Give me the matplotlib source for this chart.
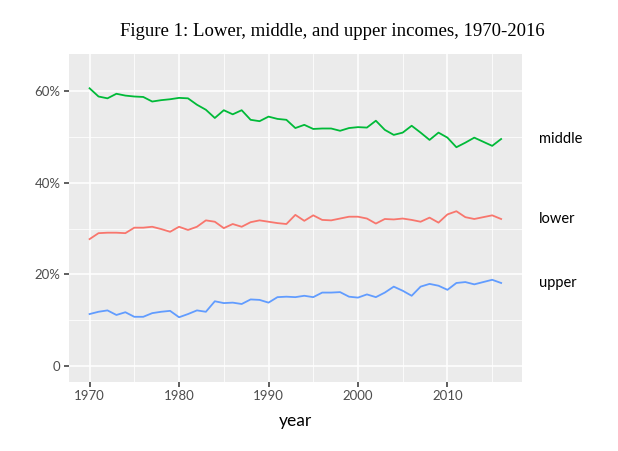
import matplotlib.pyplot as plt
import numpy as np

years = np.arange(1970, 2017)

middle = [60.7, 58.9, 58.5, 59.5, 59.1, 58.9, 58.8, 57.8, 58.1, 58.3,
          58.6, 58.5, 57.1, 56.0, 54.2, 55.9, 55.0, 55.9, 53.8, 53.5,
          54.5, 54.0, 53.8, 52.0, 52.7, 51.8, 51.9, 51.9, 51.4, 52.0,
          52.2, 52.1, 53.6, 51.6, 50.5, 51.0, 52.5, 51.0, 49.4, 51.0,
          49.9, 47.8, 48.8, 49.9, 49.0, 48.1, 49.6]
lower = [27.7, 29.0, 29.1, 29.1, 29.0, 30.2, 30.2, 30.4, 29.9, 29.3,
         30.4, 29.7, 30.4, 31.8, 31.5, 30.1, 31.0, 30.4, 31.4, 31.8,
         31.5, 31.2, 31.0, 33.0, 31.7, 32.9, 31.9, 31.8, 32.2, 32.6,
         32.6, 32.2, 31.1, 32.1, 32.0, 32.2, 31.9, 31.5, 32.4, 31.3,
         33.1, 33.8, 32.5, 32.1, 32.5, 32.9, 32.1]
upper = [11.3, 11.8, 12.1, 11.1, 11.7, 10.7, 10.7, 11.5, 11.8, 12.0,
         10.6, 11.3, 12.1, 11.8, 14.1, 13.7, 13.8, 13.5, 14.5, 14.4,
         13.8, 15.0, 15.1, 15.0, 15.3, 15.0, 16.0, 16.0, 16.1, 15.1,
         14.9, 15.6, 15.0, 16.0, 17.3, 16.4, 15.3, 17.3, 17.9, 17.5,
         16.6, 18.1, 18.3, 17.8, 18.3, 18.8, 18.1]

series = {"lower": (lower, "#F8766D"),
          "middle": (middle, "#00BA38"),
          "upper": (upper, "#619CFF")}

y_ticks = [0, 20, 40, 60]
y_labels = ["0", "20%", "40%", "60%"]
x_ticks = [1970, 1980, 1990, 2000, 2010]

plt.rcParams["font.family"] = ["Lato", "DejaVu Sans"]

fig = plt.figure(figsize=(6.18, 4.51), dpi=100)
ax = fig.add_axes([69 / 618, 1 - 381.7 / 451, (521.7 - 69) / 618, (381.7 - 54) / 451])
ax.set_facecolor("#EBEBEB")

for name, (vals, col) in series.items():
    ax.plot(years, vals, color=col, linewidth=1.3, zorder=3)
    ax.text(2020.2, vals[-1], name, fontsize=10.5, color="black",
            ha="left", va="center", clip_on=False)

ax.set_xlim(1967.7, 2018.3)
ax.set_ylim(-3.5, 68.2)

ax.set_xticks(x_ticks)
ax.set_xticks(np.arange(1975, 2020, 10), minor=True)
ax.set_yticks(y_ticks)
ax.set_yticklabels(y_labels)
ax.set_yticks([10, 30, 50], minor=True)

ax.grid(True, which="major", color="white", linewidth=1.1, zorder=1)
ax.grid(True, which="minor", color="white", linewidth=0.55, zorder=1)
ax.set_axisbelow(True)

for s in ax.spines.values():
    s.set_visible(False)

ax.tick_params(which="major", length=3.5, width=1.1, color="#333333",
               labelcolor="#4D4D4D", labelsize=9.5, pad=2.5)
ax.tick_params(which="minor", length=0)

ax.set_xlabel("year", fontsize=12.5, color="black", labelpad=8)

fig.text(332 / 618, 1 - 32 / 451, "Figure 1: Lower, middle, and upper incomes, 1970-2016",
         family=["Liberation Serif", "DejaVu Serif"], fontsize=13.5, ha="center", va="center")

fig.savefig("out.png", dpi=100)
